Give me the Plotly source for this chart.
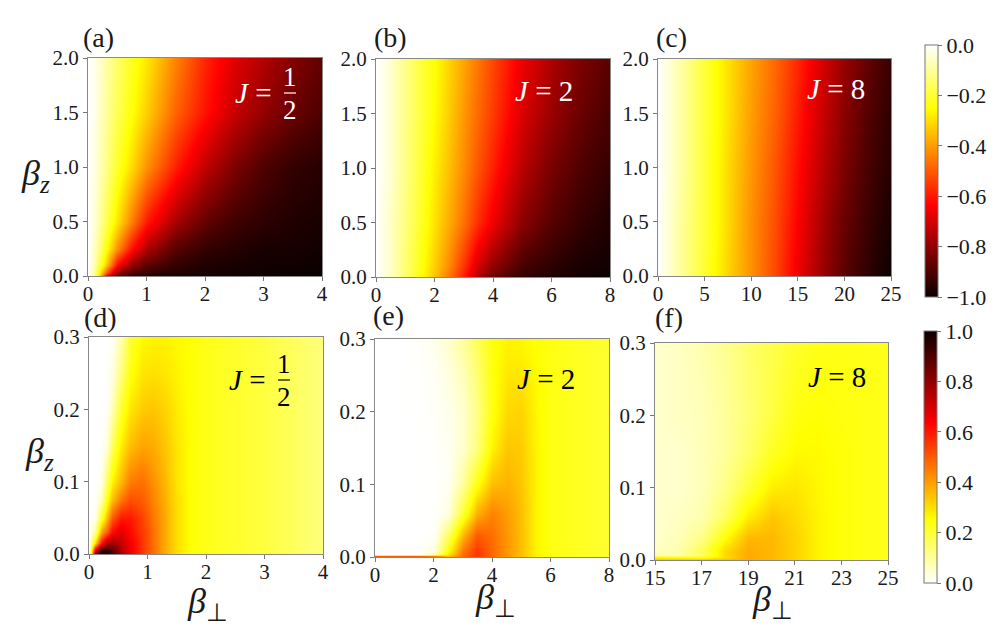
import plotly.graph_objects as go
from plotly.subplots import make_subplots

# colour map: matplotlib "hot", and its reverse for the lower row
hot = [[0.0, '#0b0000'], [0.365, '#ff0000'], [0.746, '#ffff00'], [1.0, '#ffffff']]
hot_r = [[0.0, '#ffffff'], [0.254, '#ffff00'], [0.635, '#ff0000'], [1.0, '#0b0000']]

# panel (a), J=1/2
a_x = [0, .1, .2, .3, .5, .75, 1, 1.5, 2, 2.5, 3, 3.5, 4]
a_y = [0, .03, .1, .25, .5, 1, 1.5, 2]
a_z = [
    [0, -.13, -.35, -.65, -.90, -.95, -.97, -.98, -.99, -.99, -1, -1, -1],
    [0, -.10, -.30, -.50, -.80, -.90, -.94, -.97, -.98, -.99, -.99, -1, -1],
    [0, -.08, -.20, -.33, -.62, -.80, -.88, -.94, -.97, -.98, -.99, -.99, -1],
    [0, -.06, -.14, -.24, -.42, -.62, -.76, -.89, -.94, -.96, -.98, -.98, -.99],
    [0, -.04, -.10, -.17, -.29, -.45, -.60, -.77, -.87, -.92, -.95, -.97, -.98],
    [0, -.03, -.07, -.12, -.21, -.31, -.42, -.59, -.73, -.83, -.90, -.94, -.96],
    [0, -.02, -.06, -.10, -.17, -.25, -.33, -.49, -.61, -.72, -.80, -.86, -.90],
    [0, -.02, -.05, -.09, -.15, -.22, -.29, -.44, -.58, -.68, -.75, -.82, -.87],
]

# panel (b), J=2
b_x = [0, .5, 1, 1.5, 2, 2.5, 3, 3.5, 4, 5, 6, 7, 8]
b_y = [0, .1, .5, 1, 1.5, 2]
b_z = [
    [0, -.06, -.15, -.24, -.35, -.46, -.60, -.76, -.86, -.94, -.97, -.99, -1],
    [0, -.06, -.14, -.23, -.33, -.43, -.56, -.70, -.80, -.91, -.95, -.98, -.99],
    [0, -.06, -.13, -.21, -.30, -.38, -.47, -.57, -.66, -.81, -.89, -.94, -.97],
    [0, -.05, -.12, -.20, -.28, -.35, -.43, -.51, -.59, -.74, -.84, -.90, -.94],
    [0, -.05, -.12, -.19, -.26, -.33, -.41, -.48, -.55, -.69, -.79, -.86, -.91],
    [0, -.05, -.12, -.19, -.25, -.32, -.39, -.46, -.53, -.66, -.76, -.83, -.88],
]

# panel (c), J=8
c_x = [0, 2.5, 5, 7.5, 10, 12.5, 15, 17.5, 20, 22.5, 25]
c_y = [0, .5, 1, 1.5, 2]
c_z = [
    [0, -.10, -.21, -.32, -.42, -.53, -.66, -.78, -.88, -.95, -1],
    [0, -.10, -.20, -.31, -.42, -.52, -.64, -.76, -.86, -.93, -.98],
    [0, -.09, -.20, -.31, -.41, -.51, -.62, -.73, -.83, -.91, -.96],
    [0, -.09, -.20, -.30, -.40, -.49, -.60, -.71, -.81, -.89, -.95],
    [0, -.09, -.20, -.30, -.39, -.48, -.58, -.69, -.79, -.87, -.93],
]

# panel (d), J=1/2
d_x = [0, .1, .2, .3, .4, .55, .7, .9, 1.1, 1.3, 1.5, 1.75, 2, 2.5, 3, 3.5, 4]
d_y = [0, .005, .015, .03, .05, .075, .1, .15, .2, .25, .3]
d_z = [
    [0, .80, .97, .97, .92, .78, .66, .56, .47, .38, .30, .25, .23, .21, .19, .16, .13],
    [0, .65, .93, .95, .88, .75, .66, .56, .47, .38, .30, .25, .23, .21, .19, .16, .13],
    [0, .30, .60, .75, .78, .72, .65, .56, .47, .38, .30, .25, .23, .21, .19, .16, .13],
    [0, .10, .38, .50, .62, .68, .62, .55, .47, .38, .30, .25, .23, .21, .19, .16, .13],
    [0, .02, .20, .36, .50, .60, .60, .54, .46, .38, .30, .25, .23, .21, .19, .16, .13],
    [0, .005, .07, .24, .35, .46, .52, .50, .44, .37, .30, .25, .23, .21, .19, .16, .13],
    [0, 0, .02, .16, .27, .36, .45, .47, .42, .36, .29, .25, .23, .21, .19, .16, .13],
    [0, 0, .003, .04, .16, .28, .35, .39, .38, .34, .29, .25, .23, .21, .19, .16, .13],
    [0, 0, 0, .01, .07, .21, .29, .33, .34, .32, .28, .25, .23, .21, .19, .16, .13],
    [0, 0, 0, .002, .03, .13, .24, .29, .30, .29, .27, .25, .23, .21, .19, .16, .13],
    [0, 0, 0, 0, .01, .08, .20, .26, .27, .27, .26, .25, .23, .21, .19, .16, .13],
]

# panel (e), J=2
e_x = [0, 1, 1.5, 2, 2.5, 3, 3.5, 4, 4.5, 5, 5.5, 6, 7, 8]
e_y = [0, .0014, .004, .01, .03, .06, .1, .15, .2, .25, .3]
e_z = [
    [.5, .5, .5, .5, .40, .50, .56, .48, .41, .35, .27, .235, .22, .205],
    [.5, .5, .5, .45, .35, .48, .56, .48, .41, .35, .27, .235, .22, .205],
    [0, 0, .005, .08, .28, .47, .56, .48, .41, .35, .27, .235, .22, .205],
    [0, 0, .002, .03, .24, .45, .55, .48, .41, .35, .27, .235, .22, .205],
    [0, 0, 0, .005, .15, .36, .50, .47, .41, .35, .27, .235, .22, .205],
    [0, 0, 0, .002, .03, .20, .37, .44, .40, .35, .27, .235, .22, .205],
    [0, 0, 0, .002, .01, .10, .24, .35, .37, .34, .27, .235, .22, .205],
    [0, 0, 0, .003, .012, .05, .13, .27, .34, .33, .27, .235, .22, .205],
    [0, 0, .002, .005, .02, .05, .12, .24, .31, .32, .265, .235, .22, .205],
    [0, 0, .003, .01, .03, .07, .14, .24, .29, .29, .26, .235, .22, .205],
    [0, 0, .005, .02, .05, .10, .17, .24, .27, .265, .25, .235, .22, .205],
]

# panel (f), J=8
f_x = [15, 16, 17, 18, 19, 20, 21, 22, 23, 24, 25]
f_y = [0, .004, .007, .012, .03, .06, .1, .15, .2, .3]
f_z = [
    [.36, .36, .36, .36, .38, .36, .32, .27, .245, .235, .23],
    [.26, .24, .22, .30, .38, .36, .32, .27, .245, .235, .23],
    [.09, .09, .15, .31, .38, .36, .32, .27, .245, .235, .23],
    [.06, .08, .17, .31, .38, .36, .32, .27, .245, .235, .23],
    [.05, .07, .12, .25, .36, .36, .32, .27, .245, .235, .23],
    [.05, .06, .08, .16, .28, .34, .31, .27, .245, .235, .23],
    [.05, .05, .07, .12, .20, .28, .29, .265, .245, .235, .23],
    [.05, .05, .07, .10, .15, .22, .26, .26, .245, .235, .23],
    [.05, .06, .07, .10, .14, .19, .24, .25, .24, .235, .23],
    [.05, .06, .08, .11, .15, .18, .21, .23, .235, .23, .23],
]

top_yticks = [0, .5, 1, 1.5, 2]
bottom_yticks = [0, .1, .2, .3]
cbar_top_ticks = [0, -.2, -.4, -.6, -.8, -1]
cbar_bottom_ticks = [0, .2, .4, .6, .8, 1]

W, H = 997, 637
fx = lambda p: p / W
fy = lambda p: 1 - p / H
serif = 'Liberation Serif'
ink = '#1a1a1a'

# (x, y, z, xticks, yticks, left, right, top, bottom, coloraxis)
panels = [
    (a_x, a_y, a_z, [0, 1, 2, 3, 4], top_yticks, 88, 322, 58, 276, 'coloraxis'),
    (b_x, b_y, b_z, [0, 2, 4, 6, 8], top_yticks, 376, 610, 59, 277, 'coloraxis'),
    (c_x, c_y, c_z, [0, 5, 10, 15, 20, 25], top_yticks, 658, 891, 59, 276, 'coloraxis'),
    (d_x, d_y, d_z, [0, 1, 2, 3, 4], bottom_yticks, 89, 323, 337, 554, 'coloraxis2'),
    (e_x, e_y, e_z, [0, 2, 4, 6, 8], bottom_yticks, 375, 609, 339, 557, 'coloraxis2'),
    (f_x, f_y, f_z, [15, 17, 19, 21, 23, 25], bottom_yticks, 655, 888, 343, 560, 'coloraxis2'),
]

fig = make_subplots(rows=2, cols=3)
for i, (xs, ys, zs, xt, yt, l, r, t, b, cax) in enumerate(panels):
    row, col = i // 3 + 1, i % 3 + 1
    fig.add_trace(go.Heatmap(x=xs, y=ys, z=zs, coloraxis=cax, zsmooth='best'), row=row, col=col)
    fig.update_xaxes(domain=[fx(l), fx(r)], range=[xt[0], xt[-1]], tickvals=xt, ticks='outside', ticklen=4,
                     tickcolor='#777', linecolor='#888', linewidth=1, mirror=True, showgrid=False, zeroline=False,
                     ticklabelstandoff=-5, tickfont=dict(family=serif, size=21, color=ink), row=row, col=col)
    fig.update_yaxes(domain=[fy(b), fy(t)], range=[yt[0], yt[-1]], tickvals=yt, tickformat='.1f', ticks='outside', ticklen=4,
                     tickcolor='#777', linecolor='#888', linewidth=1, mirror=True, showgrid=False, zeroline=False,
                     tickfont=dict(family=serif, size=21, color=ink), row=row, col=col)

cbar_style = dict(thickness=13, lenmode='fraction', xanchor='left', yanchor='top', xpad=0, ypad=0,
                  outlinecolor='#777', outlinewidth=1, ticks='outside', ticklen=4, tickcolor='#777',
                  tickformat='.1f', tickfont=dict(family=serif, size=22, color=ink))
fig.update_layout(
    width=W, height=H, margin=dict(l=0, r=0, t=0, b=0, autoexpand=False), paper_bgcolor='white', plot_bgcolor='white',
    coloraxis=dict(colorscale=hot, cmin=-1, cmax=0, colorbar=dict(x=fx(925), y=fy(45), len=252 / H, tickvals=cbar_top_ticks, **cbar_style)),
    coloraxis2=dict(colorscale=hot_r, cmin=0, cmax=1, colorbar=dict(x=fx(924), y=fy(331), len=252 / H, tickvals=cbar_bottom_ticks, **cbar_style)),
)


def label(text, x, y, size, color=ink):
    fig.add_annotation(text=text, xref='paper', yref='paper', x=fx(x), y=fy(y), xanchor='center', yanchor='middle',
                       showarrow=False, font=dict(family=serif, size=size, color=color))


for text, x, y in [('(a)', 98, 38), ('(b)', 390, 38), ('(c)', 671, 38), ('(d)', 100, 317), ('(e)', 388, 316), ('(f)', 669, 318)]:
    label(text, x, y, 28)

for x, y in [(35, 175), (39, 453)]:
    label('<i>β</i><sub><i>z</i></sub>', x, y, 36)
for x, y in [(207, 603), (495, 599), (772, 601)]:
    label('<i>β</i><sub>⊥</sub>', x, y, 36)

label('<i>J</i> = 2', 544, 91, 29, 'white')
label('<i>J</i> = 8', 836, 89, 29, 'white')
label('<i>J</i> = 2', 546, 379, 29, 'black')
label('<i>J</i> = 8', 837, 377, 29, 'black')

# J = 1/2 stacked fractions
for jx, y, fracx, color in [(253, 93, 290, 'white'), (247, 380, 284, 'black')]:
    label('<i>J</i> =', jx, y, 29, color)
    label('1', fracx, y - 16, 27, color)
    label('2', fracx, y + 17, 27, color)
    fig.add_shape(type='line', xref='paper', yref='paper', x0=fx(fracx - 6), x1=fx(fracx + 6), y0=fy(y), y1=fy(y),
                  line=dict(color=color, width=1.2))

fig.write_html("out.html", config={'displayModeBar': False}, post_script="document.body.style.margin='0';")
